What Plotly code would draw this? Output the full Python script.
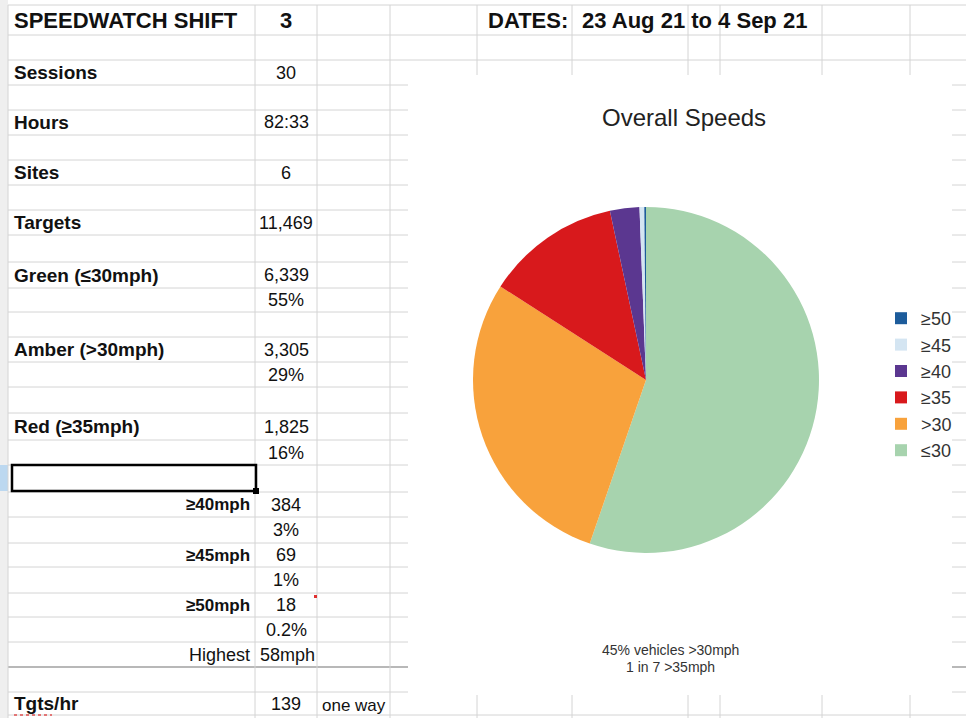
import plotly.graph_objects as go

# ---------------- data ----------------
sheet_title = "SPEEDWATCH SHIFT"
shift_no = "3"
dates_label = "DATES:"
dates_value = "23 Aug 21 to 4 Sep 21"

main_labels = ["Sessions", "Hours", "Sites", "Targets",
               "Green (≤30mph)", "Amber (>30mph)", "Red (≥35mph)"]
main_values = ["30", "82:33", "6", "11,469", "6,339", "3,305", "1,825"]
main_pcts = [None, None, None, None, "55%", "29%", "16%"]

sub_labels = ["≥40mph", "≥45mph", "≥50mph"]
sub_values = ["384", "69", "18"]
sub_pcts = ["3%", "1%", "0.2%"]

highest_label = "Highest"
highest_value = "58mph"
rate_label = "Tgts/hr"
rate_value = "139"
rate_note = "one way"

chart_title = "Overall Speeds"
pie_labels = ["≤30", ">30", "≥35", "≥40", "≥45", "≥50"]
pie_values = [6339, 3305, 1441, 315, 51, 18]
pie_colors = ["#a7d3ae", "#f8a23c", "#d8191c", "#5b3790", "#d4e5f2", "#1d5c9b"]
chart_notes = ["45% vehicles >30mph", "1 in 7 >35mph"]

# ---------------- layout helpers ----------------
W, H = 966, 718
def X(px):
    return px / W
def Y(py):
    return 1 - py / H

row_edges = [5, 35, 60, 85, 110, 135, 160, 185, 210, 235, 262, 288, 312, 337,
             362, 387, 413, 440, 465, 492, 517, 543, 567, 593, 617, 642, 667,
             692, 715]
def rc(i):
    return (row_edges[i] + row_edges[i + 1]) / 2

FONT = "Liberation Sans, Arial, sans-serif"
TXT = "#111111"
GRID = "#d4d4d4"

shapes = []
def line(x0, y0, x1, y1, color=GRID, width=1):
    shapes.append(dict(type="line", xref="paper", yref="paper",
                       x0=X(x0), y0=Y(y0), x1=X(x1), y1=Y(y1),
                       line=dict(color=color, width=width), layer="below"))
def rect(x0, y0, x1, y1, fill, lc=None, lw=0, layer="below"):
    shapes.append(dict(type="rect", xref="paper", yref="paper",
                       x0=X(x0), y0=Y(y0), x1=X(x1), y1=Y(y1),
                       fillcolor=fill, line=dict(color=lc or fill, width=lw),
                       layer=layer))

# gutter
rect(0, 0, 8, H, "#efefef")
rect(0, 465, 8, 491, "#bcd8f0")
# horizontal grid
for e in row_edges:
    if e == 667:
        line(8, e, W, e, color="#a0a0a0", width=1.5)
    else:
        line(8, e, W, e)
# vertical grid
for vx in [8, 255, 317, 390, 477, 572, 688, 720, 822, 910]:
    line(vx, 5, vx, H)
# chart area (white) covering the grid
rect(408, 75, 952, 695, "#ffffff")
# selected cell
shapes.append(dict(type="rect", xref="paper", yref="paper",
                   x0=X(12), y0=Y(465), x1=X(256), y1=Y(491),
                   line=dict(color="#000000", width=2.5), layer="above"))
rect(253, 488, 259, 494, "#000000", layer="above")
# small red marks
rect(314, 595, 317, 598, "#e03030", layer="above")
shapes.append(dict(type="line", xref="paper", yref="paper",
                   x0=X(14), y0=Y(715), x1=X(52), y1=Y(715),
                   line=dict(color="#e05050", width=1.5, dash="dot"),
                   layer="above"))

ann = []
def text(t, x, y, size, bold=False, xanchor="left", color=TXT):
    ann.append(dict(text=f"<b>{t}</b>" if bold else t, x=X(x), y=Y(y),
                    xref="paper", yref="paper", xanchor=xanchor,
                    yanchor="middle", showarrow=False,
                    font=dict(family=FONT, size=size, color=color)))

VAL_X = 286
text(sheet_title, 12, rc(0), 22, bold=True)
text(shift_no, VAL_X, rc(0), 22, bold=True, xanchor="center")
text(dates_label, 486, rc(0), 22, bold=True)
text(dates_value, 580, rc(0), 22, bold=True)

main_rows = [2, 4, 6, 8, 10, 13, 16]
for lab, val, pct, r in zip(main_labels, main_values, main_pcts, main_rows):
    text(lab, 12, rc(r), 19, bold=True)
    text(val, VAL_X, rc(r), 18, xanchor="center")
    if pct:
        text(pct, VAL_X, rc(r + 1), 18, xanchor="center")

sub_rows = [19, 21, 23]
for lab, val, pct, r in zip(sub_labels, sub_values, sub_pcts, sub_rows):
    text(lab, 252, rc(r), 17, bold=True, xanchor="right")
    text(val, VAL_X, rc(r), 18, xanchor="center")
    text(pct, VAL_X, rc(r + 1), 18, xanchor="center")

text(highest_label, 252, rc(25), 18, xanchor="right")
text(highest_value, 258, rc(25), 18)
text(rate_label, 12, rc(27), 19, bold=True)
text(rate_value, VAL_X, rc(27), 18, xanchor="center")
text(rate_note, 320, rc(27) + 2, 17)

# chart texts
text(chart_title, 684, 118, 24, xanchor="center", color="#222222")
text(chart_notes[0], 670, 650, 14, xanchor="center", color="#333333")
text(chart_notes[1], 670, 667, 14, xanchor="center", color="#333333")

# pie
cx, cy, r = 646, 380, 173
fig = go.Figure(go.Pie(
    labels=pie_labels, values=pie_values, sort=False,
    direction="clockwise", rotation=0,
    marker=dict(colors=pie_colors, line=dict(width=0)),
    textinfo="none", hoverinfo="label+value+percent",
    domain=dict(x=[X(cx - r), X(cx + r)], y=[Y(cy + r), Y(cy - r)]),
))

fig.update_layout(
    width=W, height=H,
    margin=dict(l=0, r=0, t=0, b=0),
    paper_bgcolor="#ffffff", plot_bgcolor="#ffffff",
    shapes=shapes, annotations=ann,
    showlegend=True,
    legend=dict(x=X(881), y=Y(300), xanchor="left", yanchor="top",
                traceorder="reversed", itemwidth=30,
                font=dict(family=FONT, size=18, color="#333333"),
                bgcolor="rgba(0,0,0,0)"),
)

fig.write_html("out.html")
